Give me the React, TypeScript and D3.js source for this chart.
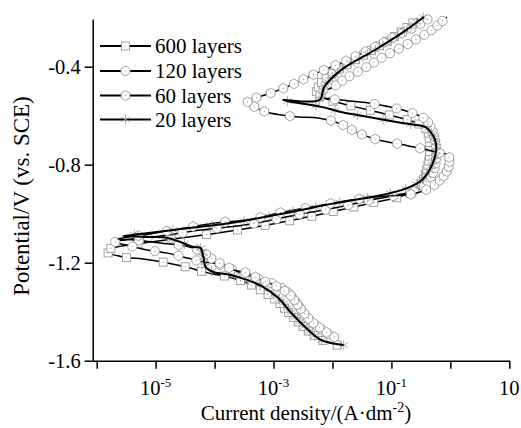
import React, { useEffect, useRef } from "react";
import * as d3 from "d3";

const W = 521;
const H = 428;

// Axis ticks
const yTicks = [-0.4, -0.8, -1.2, -1.6];
const xTickExps = [-6, -5, -4, -3, -2, -1, 0, 1];
const xLabelExps = [-5, -3, -1, 1];

// Series: [log10(current density / A·dm^-2), potential / V vs SCE]
const s600: [number, number][] = [
  [-1.92, -1.536], [-2.22, -1.511], [-2.45, -1.471], [-2.72, -1.409], [-2.96, -1.352],
  [-3.25, -1.307], [-3.49, -1.279], [-3.76, -1.258], [-4.03, -1.246], [-4.24, -1.234],
  [-4.41, -1.222], [-4.8, -1.201], [-5.21, -1.185], [-5.55, -1.177], [-5.86, -1.152],
  [-5.66, -1.136], [-5.21, -1.12], [-4.58, -1.099], [-3.95, -1.079], [-2.92, -1.038],
  [-2.02, -0.993], [-1.34, -0.956], [-0.82, -0.928], [-0.52, -0.887], [-0.38, -0.801],
  [-0.35, -0.72], [-0.4, -0.658], [-0.57, -0.63], [-1.17, -0.589], [-1.68, -0.56],
  [-2.1, -0.532], [-2.27, -0.511], [-2.22, -0.475], [-1.97, -0.422], [-1.47, -0.352],
  [-0.96, -0.279], [-0.55, -0.205],
];

const s120: [number, number][] = [
  [-2.07, -1.491], [-2.26, -1.458], [-2.46, -1.418], [-2.62, -1.36], [-2.8, -1.312],
  [-3.04, -1.283], [-3.3, -1.262], [-3.55, -1.242], [-3.81, -1.218], [-4.02, -1.201],
  [-4.19, -1.197], [-4.46, -1.181], [-4.8, -1.161], [-5.14, -1.148], [-5.43, -1.132],
  [-5.69, -1.116], [-5.52, -1.107], [-4.92, -1.091], [-4.24, -1.067], [-3.38, -1.042],
  [-2.7, -1.009], [-1.97, -0.977], [-1.34, -0.944], [-0.82, -0.92], [-0.48, -0.895],
  [-0.31, -0.842], [-0.24, -0.773], [-0.26, -0.699], [-0.35, -0.638], [-0.43, -0.613],
  [-0.65, -0.589], [-0.94, -0.569], [-1.39, -0.548], [-1.85, -0.536], [-2.16, -0.524],
  [-2.22, -0.503], [-2.02, -0.487], [-1.76, -0.446], [-1.42, -0.401], [-1.08, -0.352],
  [-0.82, -0.32], [-0.6, -0.291], [-0.36, -0.258], [-0.19, -0.226], [-0.06, -0.197],
];

const s60: [number, number][] = [
  [-1.97, -1.503], [-2.16, -1.475], [-2.38, -1.434], [-2.55, -1.385], [-2.72, -1.332],
  [-2.96, -1.295], [-3.21, -1.271], [-3.45, -1.242], [-3.67, -1.23], [-3.84, -1.21],
  [-4.02, -1.189], [-4.12, -1.169], [-4.24, -1.152], [-4.49, -1.132], [-4.92, -1.12],
  [-5.35, -1.107], [-5.64, -1.103], [-5.09, -1.083], [-4.41, -1.054], [-3.84, -1.034],
  [-3.44, -1.026], [-2.99, -1.001], [-2.36, -0.973], [-1.68, -0.944], [-1.08, -0.928],
  [-0.65, -0.92], [-0.35, -0.895], [-0.14, -0.854], [-0.02, -0.801], [-0.04, -0.76],
  [-0.18, -0.752], [-0.53, -0.732], [-0.77, -0.72], [-1.22, -0.699], [-1.56, -0.671],
  [-1.9, -0.63], [-2.24, -0.609], [-2.58, -0.605], [-2.87, -0.597], [-3.13, -0.585],
  [-3.38, -0.556], [-3.44, -0.544], [-3.21, -0.52], [-2.99, -0.503], [-2.7, -0.475],
  [-2.41, -0.442], [-2.14, -0.413], [-1.85, -0.385], [-1.56, -0.352], [-1.28, -0.32],
  [-0.99, -0.283], [-0.7, -0.25], [-0.48, -0.222], [-0.35, -0.201],
];

const s20: [number, number][] = [
  [-1.81, -1.536], [-2.19, -1.516], [-2.41, -1.475], [-2.7, -1.405], [-2.92, -1.344],
  [-3.21, -1.295], [-3.44, -1.271], [-3.73, -1.25], [-4.02, -1.238], [-4.15, -1.218],
  [-4.19, -1.177], [-4.24, -1.14], [-4.36, -1.136], [-4.58, -1.116], [-4.8, -1.099],
  [-5.09, -1.095], [-5.35, -1.093], [-5.55, -1.091], [-5.26, -1.083], [-4.58, -1.063],
  [-3.73, -1.038], [-2.7, -0.993], [-2.02, -0.96], [-1.34, -0.932], [-0.82, -0.903],
  [-0.48, -0.862], [-0.31, -0.801], [-0.24, -0.74], [-0.26, -0.699], [-0.35, -0.662],
  [-0.43, -0.646], [-0.82, -0.63], [-1.39, -0.605], [-1.85, -0.585], [-2.19, -0.564],
  [-2.84, -0.536], [-2.22, -0.536], [-2.14, -0.483], [-1.85, -0.413], [-1.28, -0.332],
  [-0.82, -0.262], [-0.45, -0.197],
];

const seriesNames = ["600 layers", "120 layers", "60 layers", "20 layers"];
const seriesSymbols = ["square", "circle", "hexagon", "asterisk"];
const seriesData = [s600, s120, s60, s20];

const FONT = "Liberation Serif";
const MARK = "#999999";

function drawMarker(sel: any, type: string, cx: number, cy: number) {
  if (type === "square") {
    sel.append("rect").attr("x", cx - 4).attr("y", cy - 4).attr("width", 8).attr("height", 8)
      .attr("fill", "#fff").attr("stroke", MARK).attr("stroke-width", 0.9);
  } else if (type === "circle") {
    sel.append("circle").attr("cx", cx).attr("cy", cy).attr("r", 4.6)
      .attr("fill", "#fff").attr("stroke", MARK).attr("stroke-width", 0.9);
  } else if (type === "hexagon") {
    const r = 5;
    const pts = d3.range(6).map((k) => {
      const a = -Math.PI / 2 + (k * Math.PI) / 3;
      return [cx + r * Math.cos(a), cy + r * Math.sin(a)].join(",");
    }).join(" ");
    sel.append("polygon").attr("points", pts)
      .attr("fill", "#fff").attr("stroke", MARK).attr("stroke-width", 0.9);
  } else {
    const r = 5;
    [90, 30, -30].forEach((deg) => {
      const a = (deg * Math.PI) / 180;
      sel.append("line")
        .attr("x1", cx - r * Math.cos(a)).attr("y1", cy - r * Math.sin(a))
        .attr("x2", cx + r * Math.cos(a)).attr("y2", cy + r * Math.sin(a))
        .attr("stroke", MARK).attr("stroke-width", 0.8);
    });
    return;
  }
  sel.append("circle").attr("cx", cx).attr("cy", cy).attr("r", 0.6).attr("fill", MARK);
}

export default function App() {
  const ref = useRef<SVGSVGElement>(null);

  useEffect(() => {
    const svg = d3.select(ref.current);
    svg.selectAll("*").remove();

    const x = d3.scaleLog().domain([10 ** -6.068, 10]).range([92.7, 509.3]);
    const y = d3.scaleLinear().domain([-1.6, -0.205]).range([360.7, 18.9]);

    const line = d3.line<[number, number]>()
      .x((d) => x(10 ** d[0]))
      .y((d) => y(d[1]))
      .curve(d3.curveCatmullRom.alpha(0.5));

    const plot = svg.append("g");

    seriesData.forEach((data, si) => {
      const g = plot.append("g");
      const path = g.append("path")
        .attr("d", line(data) as string)
        .attr("fill", "none")
        .attr("stroke", "#000")
        .attr("stroke-width", si === 3 ? 2 : 1.5);
      const node = path.node() as SVGPathElement;
      const total = node.getTotalLength();
      const step = 4.6;
      const mg = g.append("g");
      let prev = node.getPointAtLength(0);
      let acc = 0;
      drawMarker(mg, seriesSymbols[si], prev.x, prev.y);
      for (let l = 0.5; l <= total; l += 0.5) {
        const p = node.getPointAtLength(l);
        acc += Math.abs(p.y - prev.y);
        if (acc >= step) {
          drawMarker(mg, seriesSymbols[si], p.x, p.y);
          acc -= step;
        }
        prev = p;
      }
      if (si === 3) path.raise();
    });

    // Axes
    const yAxis = d3.axisLeft(y).tickValues(yTicks).tickSize(8).tickSizeOuter(0).tickPadding(4)
      .tickFormat((d) => (d as number).toFixed(1));
    const ya = svg.append("g").attr("transform", `translate(${x.range()[0]},0)`).call(yAxis);
    ya.attr("font-family", null).attr("font-size", null);
    ya.select(".domain").attr("stroke-width", 1.5);
    ya.selectAll(".tick line").attr("stroke-width", 1.5);
    ya.selectAll(".tick text").style("font-family", FONT).style("font-size", "20.5px").attr("fill", "#000");

    const xAxis = d3.axisBottom(x).tickValues(xTickExps.map((e) => 10 ** e)).tickSize(8)
      .tickSizeOuter(0).tickFormat(() => "");
    const xa = svg.append("g").attr("transform", `translate(0,${y.range()[0]})`).call(xAxis);
    xa.select(".domain").attr("stroke-width", 1.5);
    xa.selectAll(".tick line").attr("stroke-width", 1.5);

    xLabelExps.forEach((e) => {
      const t = svg.append("text")
        .attr("x", x(10 ** e)).attr("y", 395)
        .attr("text-anchor", "middle")
        .style("font-family", FONT).style("font-size", "20.5px");
      if (e === 1) {
        t.text("10");
      } else {
        t.append("tspan").text("10");
        t.append("tspan").style("font-size", "13px").attr("dy", -8).text(String(e));
      }
    });

    const xt = svg.append("text")
      .attr("x", 306).attr("y", 420).attr("text-anchor", "middle")
      .style("font-family", FONT).style("font-size", "21px");
    xt.append("tspan").text("Current density/(A\u00B7dm");
    xt.append("tspan").style("font-size", "14px").attr("dy", -8).text("-2");
    xt.append("tspan").attr("dy", 8).text(")");

    svg.append("text")
      .attr("transform", "translate(29,196) rotate(-90)")
      .attr("text-anchor", "middle")
      .style("font-family", FONT).style("font-size", "23px")
      .text("Potential/V (vs. SCE)");

    // Legend
    const legY = [46, 71, 95.5, 119.5];
    seriesNames.forEach((name, i) => {
      const lg = svg.append("g");
      lg.append("line").attr("x1", 100).attr("x2", 151).attr("y1", legY[i]).attr("y2", legY[i])
        .attr("stroke", "#000").attr("stroke-width", i === 3 ? 2 : 1.8);
      drawMarker(lg, seriesSymbols[i], 125.5, legY[i]);
      lg.append("text").attr("x", 155).attr("y", legY[i] + 7)
        .style("font-family", FONT).style("font-size", "21px").text(name);
    });
  }, []);

  return (
    <svg
      ref={ref}
      width={W}
      height={H}
      style={{ position: "absolute", left: 0, top: 0, background: "#fff", fontFamily: "'Liberation Serif', serif" }}
    />
  );
}
